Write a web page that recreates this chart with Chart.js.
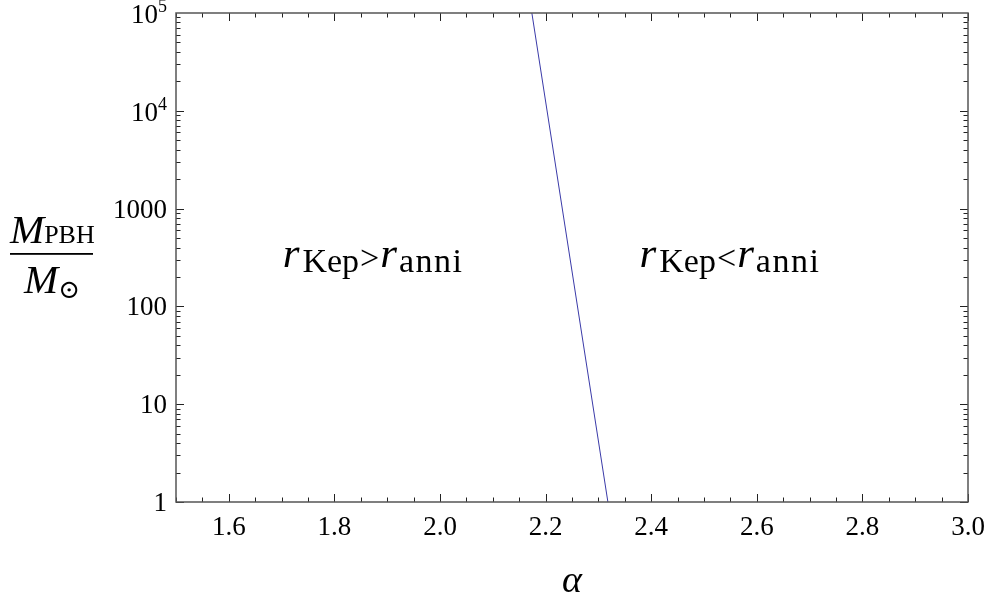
<!DOCTYPE html>
<html>
<head>
<meta charset="utf-8">
<script src="https://cdn.jsdelivr.net/npm/chart.js@4.4.1/dist/chart.umd.min.js"></script>
<style>
  html, body { margin: 0; padding: 0; background: #fff; }
  #wrap { width: 992px; height: 601px; }
</style>
</head>
<body>
<div id="wrap"><canvas id="chart" width="992" height="601"></canvas></div>
<script>
// boundary line r_Kep = r_anni
const alphaVals = [2.174, 2.318];
const massVals = [1e5, 1];

const xMin = 1.5, xMax = 3.0;
const yMin = 1, yMax = 1e5;
const xMajorTicks = [1.6, 1.8, 2.0, 2.2, 2.4, 2.6, 2.8, 3.0];
const xTickLabels = ['1.6', '1.8', '2.0', '2.2', '2.4', '2.6', '2.8', '3.0'];
const xMinorStep = 0.05;
const yMajorTicks = [1, 10, 100, 1000, 1e4, 1e5];
const yTickLabels = [['1'], ['10'], ['100'], ['1000'], ['10', '4'], ['10', '5']];

// region labels: [alpha, mass, relation]
const regionLabels = [[1.702, 255, '>'], [2.378, 255, '<']];

const SERIF = '"Liberation Serif", "DejaVu Serif", serif';

const framePlugin = {
    id: 'frame',
    afterDraw(chart) {
        const ctx = chart.ctx;
        const xs = chart.scales.x, ys = chart.scales.y;
        const a = chart.chartArea;
        ctx.save();

        // ticks on all four sides, pointing inward
        ctx.strokeStyle = '#222';
        ctx.lineWidth = 1;
        ctx.beginPath();
        const nMinor = Math.round((xMax - xMin) / xMinorStep);
        for (let i = 0; i <= nMinor; i++) {
            const v = xMin + i * xMinorStep;
            const major = i % 4 === 2;
            const len = major ? 8 : 4.5;
            const px = Math.round(xs.getPixelForValue(v)) + 0.5;
            ctx.moveTo(px, a.bottom); ctx.lineTo(px, a.bottom - len);
            ctx.moveTo(px, a.top); ctx.lineTo(px, a.top + len);
        }
        for (let d = 0; d < 5; d++) {
            for (let m = 1; m <= 9; m++) {
                const v = m * Math.pow(10, d);
                const len = m === 1 ? 8 : 4.5;
                const py = Math.round(ys.getPixelForValue(v)) + 0.5;
                ctx.moveTo(a.left, py); ctx.lineTo(a.left + len, py);
                ctx.moveTo(a.right, py); ctx.lineTo(a.right - len, py);
            }
        }
        ctx.stroke();

        // frame
        ctx.strokeStyle = '#555';
        ctx.lineWidth = 1.5;
        ctx.strokeRect(a.left, a.top, a.right - a.left, a.bottom - a.top);

        // x tick labels
        ctx.fillStyle = '#000';
        ctx.font = '27px ' + SERIF;
        ctx.textAlign = 'center';
        ctx.textBaseline = 'alphabetic';
        xMajorTicks.forEach((v, i) => {
            ctx.fillText(xTickLabels[i], xs.getPixelForValue(v), a.bottom + 33);
        });

        // y tick labels
        ctx.textAlign = 'right';
        yMajorTicks.forEach((v, i) => {
            const py = ys.getPixelForValue(v);
            const lab = yTickLabels[i];
            const right = a.left - 9;
            if (lab.length === 1) {
                ctx.font = '27px ' + SERIF;
                ctx.fillText(lab[0], right, py + 9);
            } else {
                ctx.font = '18px ' + SERIF;
                const ew = ctx.measureText(lab[1]).width;
                ctx.fillText(lab[1], right, py - 1);
                ctx.font = '27px ' + SERIF;
                ctx.fillText(lab[0], right - ew, py + 10);
            }
        });

        // x title
        ctx.textAlign = 'center';
        ctx.font = 'italic 38px ' + SERIF;
        ctx.fillText('\u03b1', (a.left + a.right) / 2, 592);

        // y title: M_PBH / M_sun
        ctx.textAlign = 'left';
        ctx.font = 'italic 41px ' + SERIF;
        ctx.fillText('M', 10, 243);
        const mw = ctx.measureText('M').width;
        ctx.font = '26px ' + SERIF;
        ctx.fillText('PBH', 10 + mw, 243);
        ctx.fillRect(10, 253, 83, 1.8);
        ctx.font = 'italic 41px ' + SERIF;
        ctx.fillText('M', 24, 293);
        ctx.font = '26px ' + SERIF;
        ctx.fillText('\u2299', 24 + mw, 298);

        // region labels
        regionLabels.forEach(([ax, my, rel]) => {
            let x = xs.getPixelForValue(ax);
            const y = ys.getPixelForValue(my);
            const parts = [
                ['italic 43px ', 'r', 0, 3, 0],
                ['34px ', 'Kep', 5, 1, 0],
                ['34px ', rel, 2, 1, 0],
                ['italic 43px ', 'r', 0, 2, 0],
                ['34px ', 'anni', 5, 0, 1.5]
            ];
            parts.forEach(([f, t, dy, gap, ls]) => {
                ctx.font = f + SERIF;
                ctx.letterSpacing = ls + 'px';
                ctx.fillText(t, x, y + dy);
                x += ctx.measureText(t).width + gap;
            });
            ctx.letterSpacing = '0px';
        });

        ctx.restore();
    }
};

new Chart(document.getElementById('chart'), {
    type: 'scatter',
    data: {
        datasets: [{
            data: alphaVals.map((a, i) => ({ x: a, y: massVals[i] })),
            showLine: true,
            borderColor: '#3a3aa8',
            borderWidth: 1,
            pointRadius: 0,
            fill: false
        }]
    },
    options: {
        responsive: false,
        animation: false,
        layout: { padding: { left: 176, top: 13, right: 24, bottom: 99 } },
        plugins: { legend: { display: false }, tooltip: { enabled: false } },
        scales: {
            x: { type: 'linear', min: xMin, max: xMax, display: false },
            y: { type: 'logarithmic', min: yMin, max: yMax, display: false }
        }
    },
    plugins: [framePlugin]
});
</script>
</body>
</html>
